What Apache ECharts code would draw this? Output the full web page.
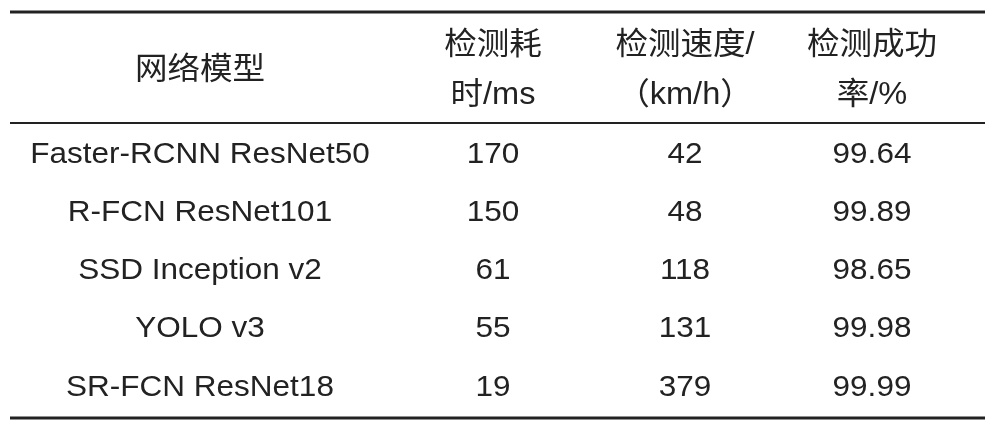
<!DOCTYPE html>
<html><head><meta charset="utf-8">
<script src="https://cdn.jsdelivr.net/npm/echarts@6/dist/echarts.min.js"></script>
<style>html,body{margin:0;padding:0;background:#fff}#c{width:996px;height:430px}</style>
</head><body><div id="c"></div>
<script>
const headers = ["网络模型", "检测耗\n时/ms", "检测速度/\n（km/h）", "检测成功\n率/%"];
const models = ["Faster-RCNN ResNet50", "R-FCN ResNet101", "SSD Inception v2", "YOLO v3", "SR-FCN ResNet18"];
const timeMs = ["170", "150", "61", "55", "19"];
const speed = ["42", "48", "118", "131", "379"];
const success = ["99.64", "99.89", "98.65", "99.98", "99.99"];

const chart = echarts.init(document.getElementById('c'));
const colX = [200, 493, 685, 872];
const rowY = [155, 213, 271, 329, 388];
const font = '"Liberation Sans","Noto Sans CJK SC",sans-serif';
const els = [];
function txt(s, x, y, size, sx, lh) {
  els.push({type:'text', x, y, scaleX:sx, style:{text:s, x:0, y:0, align:'center', verticalAlign:'middle',
    font: size + 'px ' + font, fill:'#222', lineHeight: lh || 50}});
}
headers.forEach((h, i) => txt(h, colX[i], 70, 31, 1.05, 50));
const cols = [models, timeMs, speed, success];
cols.forEach((col, c) => col.forEach((v, r) => txt(v, colX[c], rowY[r], 30, 1.05)));
function line(y, w) {
  els.push({type:'line', shape:{x1:10, y1:y, x2:985, y2:y}, style:{stroke:'#222', lineWidth:w}});
}
line(12, 3); line(123, 2); line(418, 3);
chart.setOption({animation:false, graphic:{elements:els}});
</script></body></html>
